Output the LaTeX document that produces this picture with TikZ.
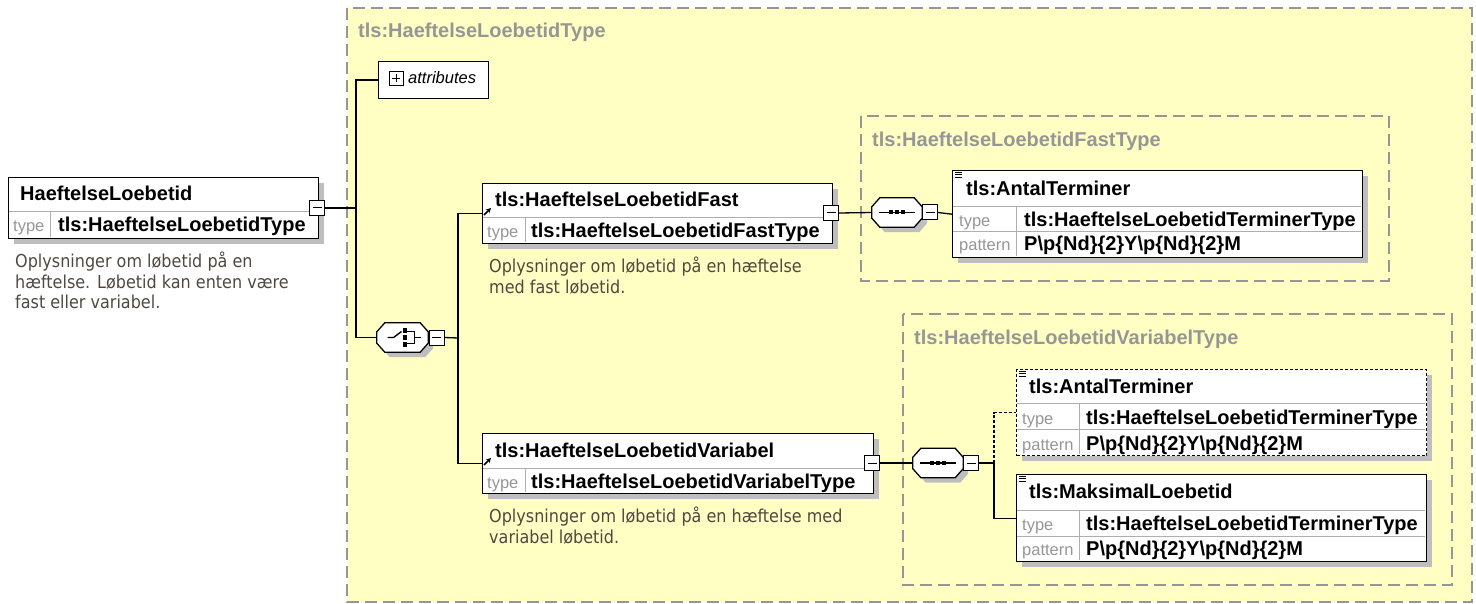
\documentclass[tikz,border=0pt]{standalone}
\usepackage{fontspec}
\setmainfont{Liberation Sans}
\newfontfamily\descfont[FakeStretch=0.9]{DejaVu Sans}
\usetikzlibrary{arrows.meta}

\definecolor{typefill}{RGB}{255,255,196}
\definecolor{framegrey}{RGB}{150,150,150}
\definecolor{titlegrey}{RGB}{150,150,150}
\definecolor{labelgrey}{RGB}{150,150,150}
\definecolor{rowgrey}{RGB}{175,175,175}
\definecolor{shadowgrey}{RGB}{190,190,190}
\definecolor{desctext}{RGB}{80,72,64}

% octagon outline round a compositor node
\newcommand\octpath[1]{([xshift=8pt]#1.north west) -- ([xshift=-8pt]#1.north east)
  -- ([yshift=-9pt]#1.north east) -- ([yshift=9pt]#1.south east)
  -- ([xshift=-8pt]#1.south east) -- ([xshift=8pt]#1.south west)
  -- ([yshift=9pt]#1.south west) -- ([yshift=-9pt]#1.north west) -- cycle}
\newcommand\compframe[1]{%
  \fill[shadowgrey, transform canvas={shift={(5pt,-5pt)}}] \octpath{#1};
  \draw[line width=1.3pt, fill=white] \octpath{#1};}

\begin{document}
\begin{tikzpicture}[x=1pt, y=-1pt,
    elembox/.style={draw, line width=1.4pt, fill=white, inner sep=0pt, anchor=north west},
    optbox/.style={elembox, dash pattern=on 3pt off 2pt},
    attrbox/.style={draw, line width=1.3pt, fill=white, inner sep=0pt, anchor=north west},
    boxshadow/.style={fill=shadowgrey},
    minusbox/.style={draw, line width=1pt, fill=white, minimum size=15pt, inner sep=0pt,
      path picture={\draw[line width=1pt] ([xshift=3pt]path picture bounding box.west)
        -- ([xshift=-3pt]path picture bounding box.east);}},
    plusbox/.style={draw, line width=1pt, fill=white, minimum size=14pt, inner sep=0pt,
      path picture={\draw[line width=1pt] ([xshift=3pt]path picture bounding box.west)
        -- ([xshift=-3pt]path picture bounding box.east)
        ([yshift=3pt]path picture bounding box.south) -- ([yshift=-3pt]path picture bounding box.north);}},
    compositor/.style={rectangle, minimum width=50pt, minimum height=29pt, inner sep=0pt},
    elemname/.style={anchor=base west, inner sep=0pt, font=\fontsize{20}{22}\selectfont\bfseries},
    typelabel/.style={anchor=base west, inner sep=0pt, text=labelgrey, font=\fontsize{16.5}{18}\selectfont},
    grouptitle/.style={elemname, text=titlegrey},
    desc/.style={anchor=north west, inner sep=0pt, align=left, text=desctext,
      font=\descfont\fontsize{17.8}{20.5}\selectfont},
    rowline/.style={draw=rowgrey, line width=1pt},
    frame/.style={draw=framegrey, line width=1.5pt, dash pattern=on 12pt off 6pt},
    conn/.style={line width=1.3pt},
    glyph/.style={line width=1.4pt},
    refarrow/.style={line width=1.5pt, -{Stealth[length=5pt,width=5pt]}}
  ]
  \useasboundingbox (0,0) rectangle (1476,604);

  % === Type frames ===
  \draw[frame, fill=typefill] (347,8) rectangle (1472,602);
  \node[grouptitle] (title) at (358,38) {tls:HaeftelseLoebetidType};
  \draw[frame] (861,116) rectangle (1389,281);
  \node[grouptitle] (fasttitle) at (872,147) {tls:HaeftelseLoebetidFastType};
  \draw[frame] (903,314) rectangle (1452,585);
  \node[grouptitle] (vartitle) at (914,344) {tls:HaeftelseLoebetidVariabelType};

  % === Shadows ===
  \fill[boxshadow] (14,183) rectangle (324,244);
  \fill[boxshadow] (488,189) rectangle (838,249);
  \fill[boxshadow] (488,439) rectangle (879,499);
  \fill[boxshadow] (958,176) rectangle (1368,263);
  \fill[boxshadow] (1022,375) rectangle (1432,461);
  \fill[boxshadow] (1022,480) rectangle (1432,567);

  % === Root element ===
  \node[elembox, minimum width=310pt, minimum height=61pt] (main) at (8,177) {};
  \draw[rowline] (9,212) -- (317,212) (50,212) -- (50,237);
  \node[elemname] (mainname) at (20,201) {HaeftelseLoebetid};
  \node[typelabel] (maintl) at (13,232) {type};
  \node[elemname] (maintv) at (58,232) {tls:HaeftelseLoebetidType};
  \node[minusbox] (mainm) at (317,208) {};
  \node[desc] (maindesc) at (15,252)
    {Oplysninger om løbetid på en\\hæftelse. Løbetid kan enten være\\fast eller variabel.};

  % === Attributes ===
  \node[attrbox, minimum width=110pt, minimum height=37pt] (attr) at (378,61) {};
  \node[plusbox] (attrp) at (396,78.5) {};
  \node[anchor=base west, inner sep=0pt, font=\fontsize{16.5}{18}\selectfont\itshape]
    (attrtext) at (408,84) {attributes};

  % === Choice ===
  \node[compositor, minimum width=51pt] (choice) at (402.5,337.5) {};
  \compframe{choice}
  \draw[glyph] (choice.center) ++(-15,0) -- ++(6,0) -- ++(8,-6);
  \foreach \d in {-7,0,7}
    \fill ([yshift=-\d pt]choice.center) +(0,-2.5) rectangle +(4.5,2.5);
  \draw[glyph] ([xshift=4pt,yshift=6pt]choice.center) -| ([xshift=12pt,yshift=-6pt]choice.center)
    -- ([xshift=4pt,yshift=-6pt]choice.center);
  \draw[glyph] ([xshift=12pt]choice.center) -- ([xshift=18pt]choice.center);
  \node[minusbox] (choicem) at (436.5,337.5) {};

  % === Fast element ===
  \node[elembox, minimum width=350pt, minimum height=60pt] (fast) at (482,183) {};
  \draw[rowline] (483,218) -- (831,218) (525,218) -- (525,242);
  \draw[refarrow] (484,215) -- (491,208);
  \node[elemname] (fastname) at (495,207) {tls:HaeftelseLoebetidFast};
  \node[typelabel] (fasttl) at (487,238) {type};
  \node[elemname] (fasttv) at (531,238) {tls:HaeftelseLoebetidFastType};
  \node[minusbox] (fastm) at (831,213) {};
  \node[desc] (fastdesc) at (489,257)
    {Oplysninger om løbetid på en hæftelse\\med fast løbetid.};

  % === Variabel element ===
  \node[elembox, minimum width=391pt, minimum height=60pt] (var) at (482,433) {};
  \draw[rowline] (483,468) -- (872,468) (525,468) -- (525,492);
  \draw[refarrow] (484,465) -- (491,458);
  \node[elemname] (varname) at (495,457) {tls:HaeftelseLoebetidVariabel};
  \node[typelabel] (vartl) at (487,488) {type};
  \node[elemname] (vartv) at (531,488) {tls:HaeftelseLoebetidVariabelType};
  \node[minusbox] (varm) at (872,463) {};
  \node[desc] (vardesc) at (489,507)
    {Oplysninger om løbetid på en hæftelse med\\variabel løbetid.};

  % === Sequences ===
  \node[compositor] (fastseq) at (897,212.5) {};
  \compframe{fastseq}
  \draw[glyph] ([xshift=7pt]fastseq.west) -- ([xshift=-7pt]fastseq.east);
  \foreach \d in {-6,0,6}
    \fill ([xshift=\d pt]fastseq.center) +(-2,-2) rectangle +(2,2);
  \node[minusbox] (fastseqm) at (930,212.5) {};

  \node[compositor] (varseq) at (938,463) {};
  \compframe{varseq}
  \draw[glyph] ([xshift=7pt]varseq.west) -- ([xshift=-7pt]varseq.east);
  \foreach \d in {-6,0,6}
    \fill ([xshift=\d pt]varseq.center) +(-2,-2) rectangle +(2,2);
  \node[minusbox] (varseqm) at (971,463) {};

  % === AntalTerminer (fast) ===
  \node[elembox, minimum width=410pt, minimum height=87pt] (antalf) at (952,170) {};
  \draw[rowline] (953,207) -- (1361,207) (953,232) -- (1361,232) (1016,207) -- (1016,256);
  \draw[line width=0.8pt] (955,172) -- (962,172) (955,174.5) -- (962,174.5) (955,177) -- (962,177);
  \node[elemname] (antalfname) at (966,196) {tls:AntalTerminer};
  \node[typelabel] (antalftl) at (959,227) {type};
  \node[elemname] (antalftv) at (1024,227) {tls:HaeftelseLoebetidTerminerType};
  \node[typelabel] (antalfpl) at (959,251) {pattern};
  \node[elemname] (antalfpv) at (1024,251) {P\textbackslash p\{Nd\}\{2\}Y\textbackslash p\{Nd\}\{2\}M};

  % === AntalTerminer (variabel, optional) ===
  \node[optbox, minimum width=410pt, minimum height=86pt] (antalv) at (1016,369) {};
  \draw[rowline] (1017,403) -- (1425,403) (1017,429) -- (1425,429) (1079,403) -- (1079,454);
  \draw[line width=0.8pt] (1019,371) -- (1026,371) (1019,373.5) -- (1026,373.5) (1019,376) -- (1026,376);
  \node[elemname] (antalvname) at (1029,393) {tls:AntalTerminer};
  \node[typelabel] (antalvtl) at (1022,424) {type};
  \node[elemname] (antalvtv) at (1086,424) {tls:HaeftelseLoebetidTerminerType};
  \node[typelabel] (antalvpl) at (1022,450) {pattern};
  \node[elemname] (antalvpv) at (1086,450) {P\textbackslash p\{Nd\}\{2\}Y\textbackslash p\{Nd\}\{2\}M};

  % === MaksimalLoebetid ===
  \node[elembox, minimum width=410pt, minimum height=87pt] (maks) at (1016,474) {};
  \draw[rowline] (1017,510) -- (1425,510) (1017,536) -- (1425,536) (1079,510) -- (1079,560);
  \draw[line width=0.8pt] (1019,476) -- (1026,476) (1019,478.5) -- (1026,478.5) (1019,481) -- (1026,481);
  \node[elemname] (maksname) at (1029,498) {tls:MaksimalLoebetid};
  \node[typelabel] (makstl) at (1022,530) {type};
  \node[elemname] (makstv) at (1086,530) {tls:HaeftelseLoebetidTerminerType};
  \node[typelabel] (makspl) at (1022,555) {pattern};
  \node[elemname] (makspv) at (1086,555) {P\textbackslash p\{Nd\}\{2\}Y\textbackslash p\{Nd\}\{2\}M};

  % === Connectors ===
  \coordinate (trunk) at (356,208);
  \coordinate (branch) at (458,338);
  \coordinate (vbranch) at (994,463);
  \draw[conn] (mainm.east) -- (trunk);
  \draw[conn] (attr.west) -| (trunk) |- (choice.west);
  \draw[conn] (choicem.east) -- (branch);
  \draw[conn] (fast.west) -| (branch) |- (var.west);
  \draw[conn] (fastm.east) -- (fastseq.west);
  \draw[conn] (fastseqm.east) -- (antalf.west);
  \draw[conn] (varm.east) -- (varseq.west);
  \draw[conn] (varseqm.east) -- (vbranch);
  \draw[conn, dash pattern=on 3pt off 2pt] (vbranch) |- (antalv.west);
  \draw[conn] (vbranch) |- (maks.west);

\end{tikzpicture}
\end{document}
